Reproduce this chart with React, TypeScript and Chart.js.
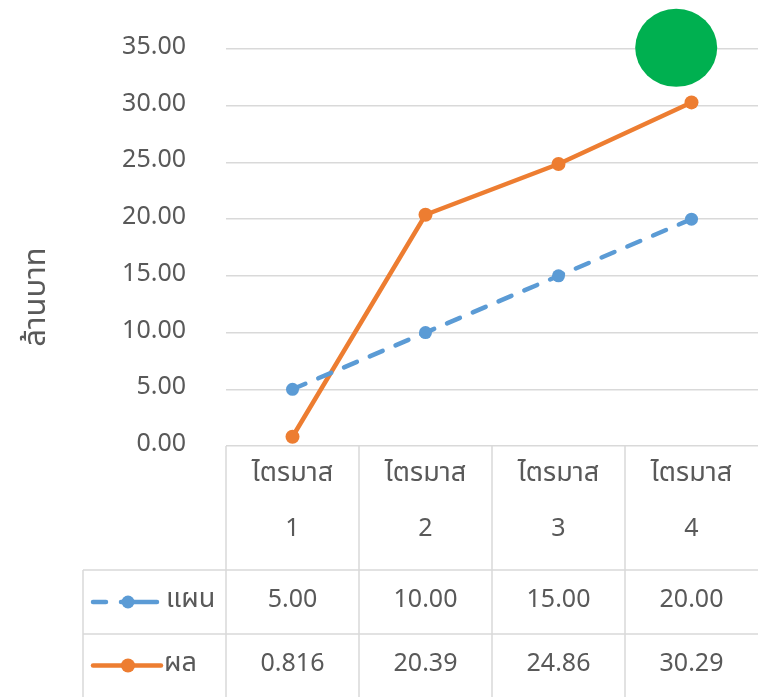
import React, { useEffect, useRef } from "react";
import { Chart, registerables } from "chart.js";

Chart.register(...registerables);

const categories = ["ไตรมาส 1", "ไตรมาส 2", "ไตรมาส 3", "ไตรมาส 4"];
const planName = "แผน";
const actualName = "ผล";
const planValues = [5.0, 10.0, 15.0, 20.0];
const actualValues = [0.816, 20.39, 24.86, 30.29];
const planLabels = ["5.00", "10.00", "15.00", "20.00"];
const actualLabels = ["0.816", "20.39", "24.86", "30.29"];
const yTitle = "ล้านบาท";
const yMin = 0;
const yMax = 35;
const yStep = 5;
// decorative green dot, in data units (category index, value)
const dotPosition = { x: 2.885, y: 35.1 };

const FONT = '"Noto Sans Thai", "Noto Sans", sans-serif';
const TEXT = "#595959";
const GRID = "#d9d9d9";
const BLUE = "#5B9BD5";
const ORANGE = "#ED7D31";
const GREEN = "#00B050";

const tablePlugin = {
  id: "dataTable",
  afterDraw(chart: any) {
    const ctx = chart.ctx;
    const x = chart.scales.x;
    const y = chart.scales.y;
    const area = chart.chartArea;
    const top = area.bottom;
    const bottom = chart.height;
    const headerBottom = 570;
    const row1Bottom = 634;
    const tableLeft = 83;
    const n = categories.length;
    const edges: number[] = [];
    for (let i = 0; i <= n; i++) edges.push(x.getPixelForValue(i - 0.5));

    ctx.save();
    // grid lines
    ctx.strokeStyle = GRID;
    ctx.lineWidth = 1.5;
    ctx.beginPath();
    for (let i = 0; i < n; i++) {
      ctx.moveTo(edges[i], top);
      ctx.lineTo(edges[i], bottom);
    }
    ctx.moveTo(tableLeft, headerBottom);
    ctx.lineTo(edges[n], headerBottom);
    ctx.moveTo(tableLeft, row1Bottom);
    ctx.lineTo(edges[n], row1Bottom);
    ctx.moveTo(tableLeft, headerBottom);
    ctx.lineTo(tableLeft, bottom);
    ctx.stroke();

    // header text
    ctx.fillStyle = TEXT;
    ctx.textAlign = "center";
    ctx.textBaseline = "middle";
    categories.forEach((c, i) => {
      const cx = x.getPixelForValue(i);
      const parts = c.split(" ");
      ctx.font = `27px ${FONT}`;
      ctx.fillText(parts[0], cx, top + 30);
      ctx.font = `25px ${FONT}`;
      ctx.fillText(parts[1], cx, top + 85);
    });
    ctx.font = `25px ${FONT}`;
    const r1 = (headerBottom + row1Bottom) / 2;
    const r2 = (row1Bottom + bottom) / 2;
    planLabels.forEach((t, i) => ctx.fillText(t, x.getPixelForValue(i), r1));
    actualLabels.forEach((t, i) => ctx.fillText(t, x.getPixelForValue(i), r2));

    // legend keys
    ctx.textAlign = "left";
    ctx.font = `27px ${FONT}`;
    ctx.fillText(planName, 166, r1);
    ctx.fillText(actualName, 164, r2);
    ctx.lineCap = "round";
    ctx.lineWidth = 4.5;
    ctx.strokeStyle = BLUE;
    ctx.beginPath();
    ctx.moveTo(93, r1);
    ctx.lineTo(106, r1);
    ctx.moveTo(121, r1);
    ctx.lineTo(157, r1);
    ctx.stroke();
    ctx.fillStyle = BLUE;
    ctx.beginPath();
    ctx.arc(128, r1, 6.5, 0, Math.PI * 2);
    ctx.fill();
    ctx.strokeStyle = ORANGE;
    ctx.beginPath();
    ctx.moveTo(93, r2);
    ctx.lineTo(161, r2);
    ctx.stroke();
    ctx.fillStyle = ORANGE;
    ctx.beginPath();
    ctx.arc(128, r2, 7, 0, Math.PI * 2);
    ctx.fill();

    // y axis title
    ctx.save();
    ctx.translate(39, 297);
    ctx.rotate(-Math.PI / 2);
    ctx.textAlign = "center";
    ctx.textBaseline = "middle";
    ctx.fillStyle = TEXT;
    ctx.font = `31px ${FONT}`;
    ctx.fillText(yTitle, 0, 0);
    ctx.restore();

    // green dot
    ctx.fillStyle = GREEN;
    ctx.beginPath();
    ctx.ellipse(
      x.getPixelForValue(dotPosition.x),
      y.getPixelForValue(dotPosition.y),
      41,
      39,
      0,
      0,
      Math.PI * 2
    );
    ctx.fill();
    ctx.restore();
  },
};

export default function App() {
  const ref = useRef<HTMLCanvasElement | null>(null);
  useEffect(() => {
    document.body.style.margin = "0";
    const chart = new Chart(ref.current as HTMLCanvasElement, {
      type: "line",
      data: {
        labels: categories,
        datasets: [
          {
            label: planName,
            data: planValues,
            borderColor: BLUE,
            backgroundColor: BLUE,
            borderWidth: 4.5,
            borderDash: [14, 14],
            borderCapStyle: "round",
            pointRadius: 6.5,
            pointBorderWidth: 0,
            pointBackgroundColor: BLUE,
          },
          {
            label: actualName,
            data: actualValues,
            borderColor: ORANGE,
            backgroundColor: ORANGE,
            borderWidth: 4.5,
            borderCapStyle: "round",
            pointRadius: 7,
            pointBorderWidth: 0,
            pointBackgroundColor: ORANGE,
          },
        ],
      },
      options: {
        animation: false,
        responsive: false,
        maintainAspectRatio: false,
        layout: { autoPadding: false, padding: { top: 49, bottom: 251, left: 0, right: 0 } },
        plugins: { legend: { display: false }, tooltip: { enabled: false } },
        scales: {
          x: { display: false, offset: true },
          y: {
            min: yMin,
            max: yMax,
            border: { display: false },
            grid: { color: GRID, lineWidth: 1.5, drawTicks: false },
            afterFit: (s: any) => {
              s.width = 226;
              s.paddingTop = 0;
              s.paddingBottom = 0;
            },
            ticks: {
              stepSize: yStep,
              padding: 40,
              color: TEXT,
              font: { family: FONT, size: 25 },
              callback: (v: any) => Number(v).toFixed(2),
            },
          },
        },
      },
      plugins: [tablePlugin],
    });
    return () => chart.destroy();
  }, []);
  return (
    <div style={{ width: 758, height: 697 }}>
      <canvas ref={ref} width={758} height={697} style={{ display: "block" }} />
    </div>
  );
}
